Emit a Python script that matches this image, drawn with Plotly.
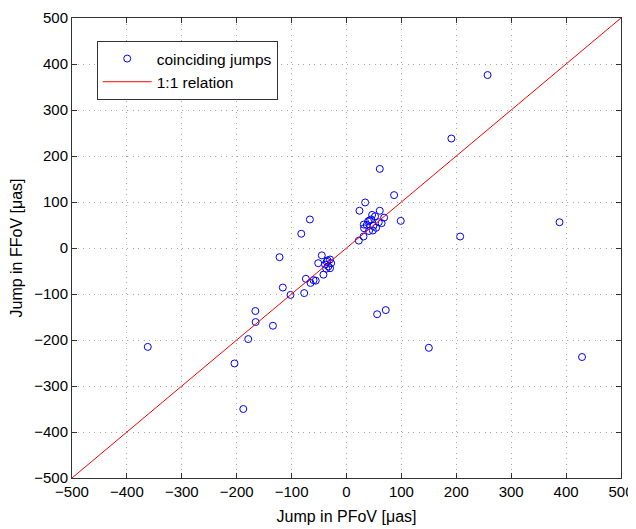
import plotly.graph_objects as go

# coinciding jumps (PFoV, FFoV) in µas
pfov = [60.6, 86.7, 98.8, 34, 23.6, 60.6, 46.7, 52, 68.5, 39.4, 42, 58.8, 64, 31.5, 49, 32, 48, 41, 31, 22.4, 45, 54, 37,
        -66.7, -82.4, -122, -45, -51.5, -39, -34.5, -30, -28, -33, -37, -30, -42, -74, -65.5, -56, -60, -116, -102, -77, -36,
        -166, -165.5, -134, -179, -204, -188, -362,
        55.8, 71.5, 257, 191, 207, 388, 150, 429]
ffov = [172, 115, 59, 99, 81, 81, 72, 69, 66, 58, 60, 56, 54, 51, 48, 43, 38, 37, 25, 16, 62, 44, 50,
        62, 31, -20, -16, -33, -36, -27, -25, -33, -40, -45, -44, -58, -67, -76, -71, -70, -86, -102, -98, -30,
        -137, -161, -169, -198, -251, -350, -215,
        -144, -135, 376, 238, 25, 56, -217, -237]

relation_x = [-500, 500]
relation_y = [-500, 500]

tick_vals = [-500, -400, -300, -200, -100, 0, 100, 200, 300, 400, 500]
tick_text = ["\u2212500", "\u2212400", "\u2212300", "\u2212200", "\u2212100", "0", "100", "200", "300", "400", "500"]

fig = go.Figure()
fig.add_trace(go.Scatter(
    x=pfov, y=ffov, mode="markers", name="coinciding jumps",
    marker=dict(symbol="circle-open", size=7, color="#0000ff", line=dict(width=1, color="#0000ff")),
))
fig.add_trace(go.Scatter(
    x=relation_x, y=relation_y, mode="lines", name="1:1 relation",
    line=dict(color="#ff0000", width=1),
))

axis_common = dict(
    range=[-500, 500], tickmode="array", tickvals=tick_vals, ticktext=tick_text,
    showgrid=True, gridcolor="#a8a8a8", gridwidth=1, griddash="1px,4.5px",
    zeroline=False, showline=True, linecolor="#333333", linewidth=1, mirror="ticks",
    ticks="inside", ticklen=5, tickcolor="#333333", automargin=False,
    ticklabeloverflow="allow",
    tickfont=dict(family="Liberation Sans, Arial, sans-serif", size=15, color="black"),
)

fig.update_layout(
    width=628, height=522,
    margin=dict(l=64, r=15, t=10, b=52),
    paper_bgcolor="white", plot_bgcolor="white",
    font=dict(family="Liberation Sans, Arial, sans-serif", size=15, color="black"),
    xaxis=dict(**axis_common, title=dict(text="Jump in PFoV [\u03bcas]", standoff=11, font=dict(size=16))),
    yaxis=dict(**axis_common, title=dict(text="Jump in FFoV [\u03bcas]", standoff=13, font=dict(size=16))),
    legend=dict(
        x=0.045, y=0.95, xanchor="left", yanchor="top",
        bgcolor="white", bordercolor="#333333", borderwidth=1,
        font=dict(size=15.5), tracegroupgap=0, itemwidth=49,
    ),
    showlegend=True,
)

fig.write_html("out.html")
